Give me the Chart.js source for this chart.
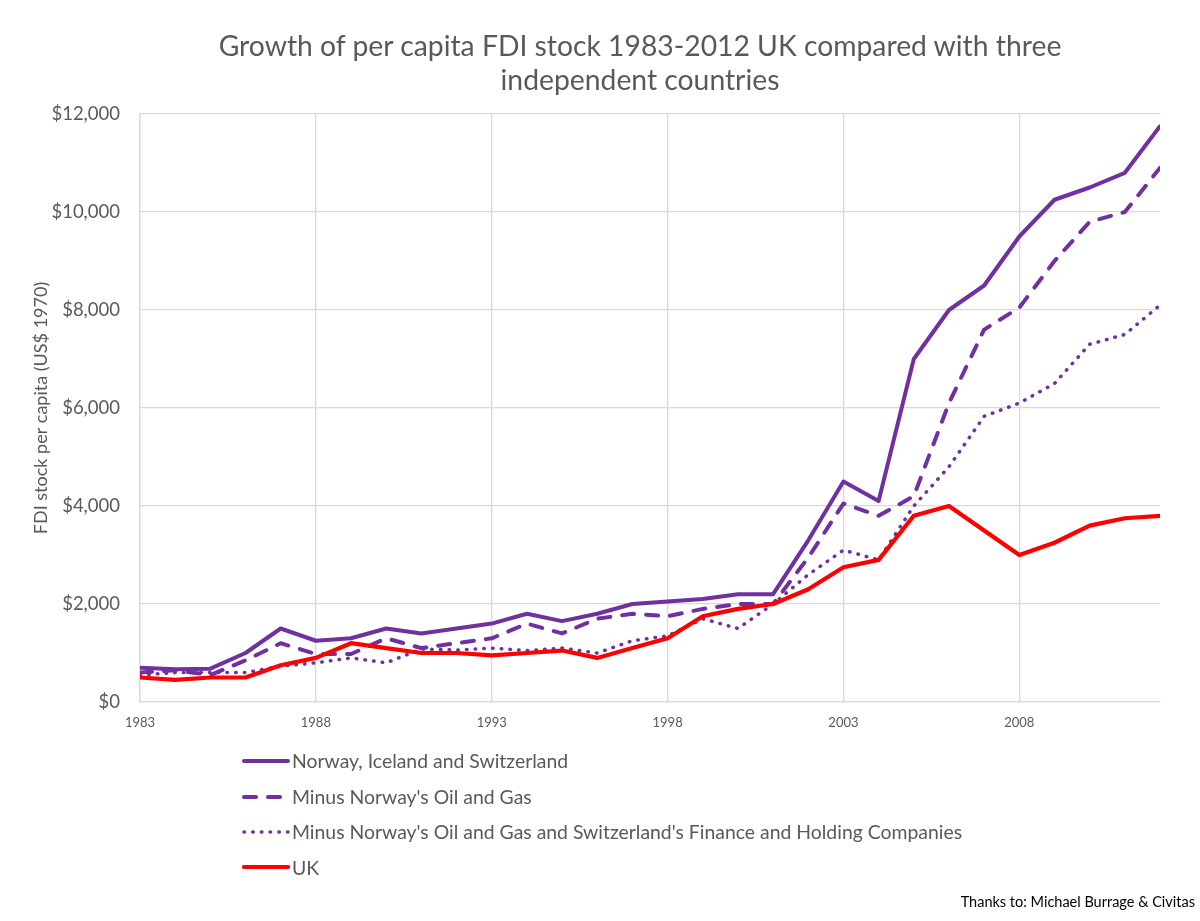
<!DOCTYPE html>
<html>
<head>
<meta charset="utf-8">
<script src="https://cdn.jsdelivr.net/npm/chart.js@4/dist/chart.umd.min.js"></script>
<style>
  html, body { margin: 0; padding: 0; background: #fff; }
  #wrap { position: relative; width: 1200px; height: 921px; overflow: hidden; font-family: Lato, sans-serif; }
  #chartBox { position: absolute; left: 0; top: 0; width: 1200px; height: 921px; }
  #title { position: absolute; left: 40px; top: 28px; width: 1200px; text-align: center; color: #595959; font-size: 28.3px; line-height: 34px; }
  .leg { position: absolute; left: 242px; height: 20px; display: flex; align-items: center; color: #595959; font-size: 19.4px; white-space: nowrap; }
  .leg svg { margin-right: 2px; }
  #credit { position: absolute; right: 5px; top: 893px; color: #000; font-size: 14.5px; line-height: 18px; white-space: nowrap; }
</style>
</head>
<body>
<div id="wrap">
  <div id="chartBox"><canvas id="c"></canvas></div>
  <div id="title">Growth of per capita FDI stock 1983-2012 UK compared with three<br>independent countries</div>
  <div id="legend"></div>
  <div id="credit">Thanks to: Michael Burrage &amp; Civitas</div>
</div>
<script>
// ---- data ----
const years = [1983,1984,1985,1986,1987,1988,1989,1990,1991,1992,1993,1994,1995,1996,1997,1998,1999,2000,2001,2002,2003,2004,2005,2006,2007,2008,2009,2010,2011,2012];
const xTickYears = [1983, 1988, 1993, 1998, 2003, 2008];
const yTicks = [0, 2000, 4000, 6000, 8000, 10000, 12000];
const seriesNames = [
  "Norway, Iceland and Switzerland",
  "Minus Norway's Oil and Gas",
  "Minus Norway's Oil and Gas and Switzerland's Finance and Holding Companies",
  "UK"
];
const norwayIcelandSwitzerland = [700,670,680,1000,1500,1250,1300,1500,1400,1500,1600,1800,1650,1800,2000,2050,2100,2200,2200,3300,4500,4100,7000,8000,8500,9500,10250,10500,10800,11750];
const minusOilGas = [600,650,550,850,1200,980,980,1300,1100,1200,1300,1600,1400,1700,1800,1750,1900,2000,2000,2950,4050,3800,4200,6100,7600,8050,9000,9800,10000,10900];
const minusOilGasFinance = [550,600,600,600,730,800,900,800,1080,1060,1100,1050,1100,1000,1250,1350,1700,1500,2000,2600,3100,2900,4000,4800,5830,6100,6500,7300,7500,8100];
const uk = [500,450,500,500,750,900,1200,1100,1000,1000,950,1000,1050,900,1100,1300,1750,1900,2000,2300,2750,2900,3800,4000,3500,3000,3250,3600,3750,3800];

// ---- styles ----
const PURPLE = '#7030A0', RED = '#FF0000', TXT = '#595959', GRID = '#d9d9d9';
const styles = [
  { color: PURPLE, width: 4, dash: [], cap: 'round' },
  { color: PURPLE, width: 4, dash: [12, 12], cap: 'round' },
  { color: PURPLE, width: 3.5, dash: [0.5, 8.2], cap: 'round' },
  { color: RED, width: 4.2, dash: [], cap: 'round' }
];
const seriesValues = [norwayIcelandSwitzerland, minusOilGas, minusOilGasFinance, uk];

const datasets = seriesValues.map((vals, i) => ({
  label: seriesNames[i],
  data: years.map((y, k) => ({ x: y, y: vals[k] })),
  borderColor: styles[i].color,
  backgroundColor: styles[i].color,
  borderWidth: styles[i].width,
  borderDash: styles[i].dash,
  borderCapStyle: styles[i].cap,
  borderJoinStyle: 'round',
  pointRadius: 0,
  pointHoverRadius: 0,
  tension: 0,
  fill: false,
  order: 4 - i
}));

new Chart(document.getElementById('c'), {
  type: 'line',
  data: { datasets },
  options: {
    responsive: true,
    maintainAspectRatio: false,
    animation: false,
    events: [],
    layout: { padding: { top: 114, right: 40, bottom: 189, left: 0 } },
    plugins: { legend: { display: false }, tooltip: { enabled: false }, title: { display: false } },
    scales: {
      x: {
        type: 'linear',
        min: years[0],
        max: years[years.length - 1],
        afterBuildTicks: s => { s.ticks = xTickYears.map(v => ({ value: v })); },
        afterFit: s => { s.height = 30; },
        grid: { color: GRID, lineWidth: 1.3, drawTicks: false },
        border: { display: true, color: GRID, width: 1.3 },
        ticks: { color: TXT, font: { family: 'Lato', size: 13 }, padding: 13, maxRotation: 0, callback: v => String(v) }
      },
      y: {
        min: 0,
        max: 12000,
        afterBuildTicks: s => { s.ticks = yTicks.map(v => ({ value: v })); },
        afterFit: s => { s.width = 140; },
        grid: { color: GRID, lineWidth: 1.3, drawTicks: false },
        border: { display: true, color: GRID, width: 1.3 },
        ticks: { color: TXT, font: { family: 'Lato', size: 18.5 }, padding: 20, callback: v => '$' + Number(v).toLocaleString('en-US') },
        title: { display: true, text: 'FDI stock per capita (US$ 1970)', color: TXT, font: { family: 'Lato', size: 18 }, padding: { top: 30, bottom: 0 } }
      }
    }
  }
});

// ---- HTML legend ----
const rowCenters = [760.7, 796.7, 831.7, 867.3];
const legend = document.getElementById('legend');
seriesNames.forEach((name, i) => {
  const st = styles[i];
  const row = document.createElement('div');
  row.className = 'leg';
  row.style.top = (rowCenters[i] - 10) + 'px';
  const dash = st.dash.length ? st.dash.join(' ') : 'none';
  row.innerHTML = '<svg width="48" height="10"><line x1="2" y1="5" x2="46" y2="5" stroke="' + st.color +
    '" stroke-width="' + st.width + '" stroke-linecap="round" stroke-dasharray="' + dash + '"/></svg>';
  const span = document.createElement('span');
  span.textContent = name;
  row.appendChild(span);
  legend.appendChild(row);
});
</script>
</body>
</html>
